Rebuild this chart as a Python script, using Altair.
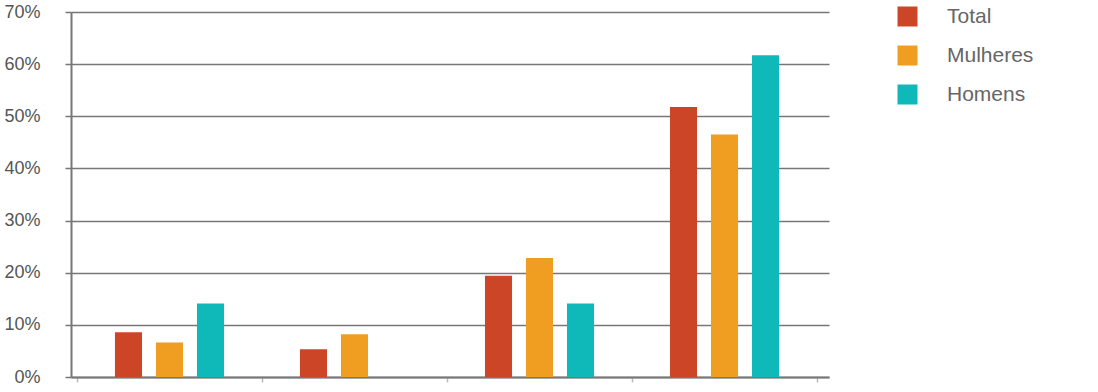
import altair as alt
import pandas as pd

groups = ["Grupo 1", "Grupo 2", "Grupo 3", "Grupo 4"]
series = ["Total", "Mulheres", "Homens"]
total = [8.6, 5.3, 19.4, 51.8]
mulheres = [6.6, 8.2, 22.8, 46.5]
homens = [14.1, None, 14.1, 61.7]
colors = ["#CC4527", "#F09E22", "#10B9B9"]
y_ticks = [0, 0.1, 0.2, 0.3, 0.4, 0.5, 0.6, 0.7]

rows = []
for s, vals in zip(series, [total, mulheres, homens]):
    for g, v in zip(groups, vals):
        if v is not None:
            rows.append({"grupo": g, "serie": s, "valor": v / 100})
df = pd.DataFrame(rows)

FONT = "Liberation Sans"

chart = alt.Chart(df).mark_bar().encode(
    x=alt.X(
        "grupo:N", sort=groups,
        scale=alt.Scale(domain=groups, paddingInner=0, paddingOuter=0.0486, align=0.333),
        axis=alt.Axis(title=None, labels=False, tickBand="extent", domainColor="#777777",
                      domainWidth=2, tickColor="#bbbbbb", tickSize=5, tickWidth=1.5),
    ),
    xOffset=alt.XOffset(
        "serie:N", sort=series,
        scale=alt.Scale(domain=series, paddingInner=0.34, paddingOuter=0.926),
    ),
    y=alt.Y(
        "valor:Q",
        scale=alt.Scale(domain=[0, 0.7], nice=False),
        axis=alt.Axis(title=None, format=".0%", values=y_ticks, grid=True,
                      gridColor="#777777", gridWidth=1.5, tickColor="#777777",
                      tickSize=6, tickWidth=1.5, domainColor="#777777", domainWidth=2,
                      labelFont=FONT, labelFontSize=18, labelColor="#555555",
                      labelPadding=25),
    ),
    color=alt.Color(
        "serie:N", sort=series,
        scale=alt.Scale(domain=series, range=colors),
        legend=alt.Legend(title=None, orient="none", legendX=826, legendY=-6,
                          symbolType="square", symbolSize=400, symbolStrokeWidth=0,
                          labelFont=FONT, labelFontSize=21, labelColor="#666666",
                          labelOffset=29, rowPadding=17, padding=0),
    ),
).properties(
    width=758, height=365,
    autosize=alt.AutoSizeParams(type="none"),
    padding={"left": 71, "top": 12, "right": 269, "bottom": 15},
).configure_view(strokeWidth=0)

chart.save("out.html", embed_options={"renderer": "svg", "actions": False})
